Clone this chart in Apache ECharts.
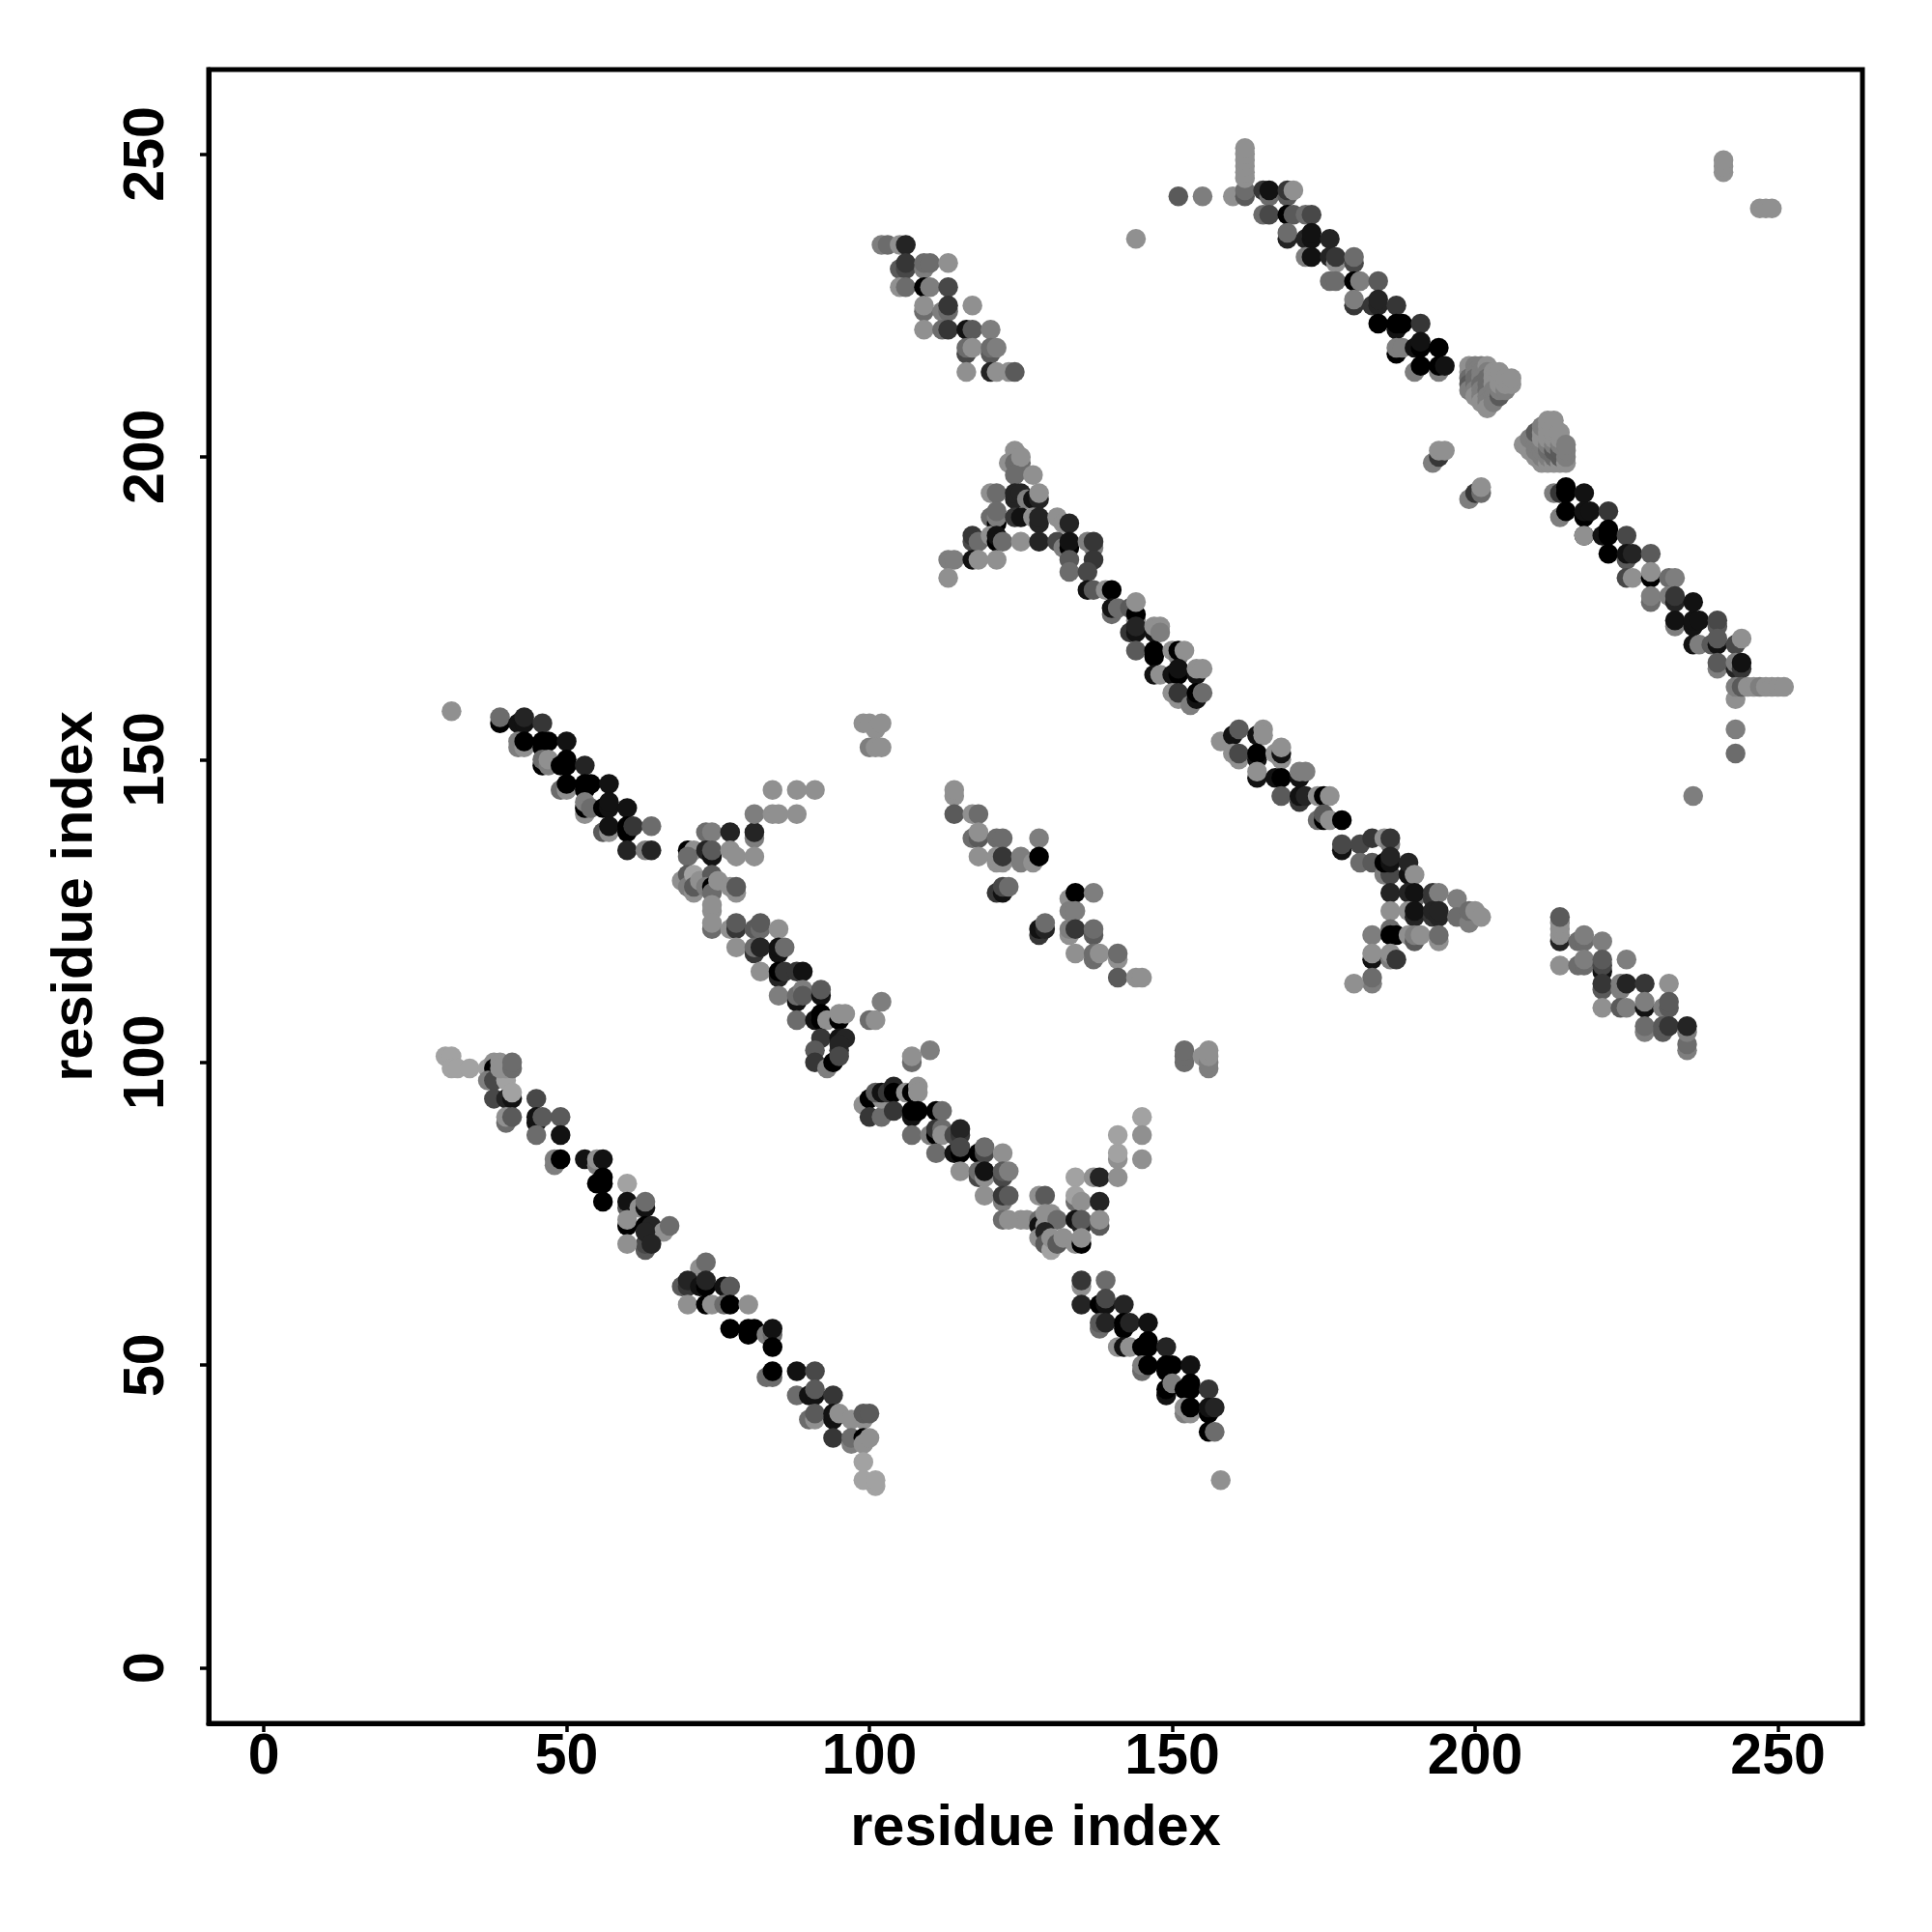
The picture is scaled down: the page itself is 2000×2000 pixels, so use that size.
<!DOCTYPE html>
<html><head><meta charset="utf-8">
<style>html,body{margin:0;padding:0;background:#fff}#c{width:2000px;height:2000px}</style>
<script src="https://cdn.jsdelivr.net/npm/echarts@6/dist/echarts.min.js"></script></head>
<body><div id="c"></div>
<script>
// each mark: [residue x, residue y, darkness level 0 (black) .. 9 (light gray)]
const tickValues=[0,50,100,150,200,250];
const axisName="residue index";
const bandLowerLeft=[[30,101,9],[31,101,9],[31,99,9],[32,99,9],[34,99,9],[37,99,9],[38,100,8],[38,99,0],[39,100,8],[37,97,7],[38,97,4],[38,94,4],[40,94,2],[41,94,1],[40,97,9],[40,99,8],[39,99,8],[41,99,6],[41,100,6],[41,95,9],[45,94,4],[40,90,6],[40,91,8],[41,91,5],[45,90,1],[45,91,1],[46,91,5],[49,91,5],[45,88,6],[49,88,1],[48,83,7],[48,84,7],[49,84,0],[53,84,1],[55,83,7],[55,84,8],[56,84,1],[56,81,0],[55,80,0],[56,80,0],[60,80,9],[56,77,0],[60,76,5],[60,77,1],[62,76,8],[63,76,1],[63,77,6],[60,73,0],[60,74,8],[63,73,0],[64,73,2],[66,72,8],[67,73,6],[63,69,5],[63,70,4],[63,72,2],[64,70,2],[60,70,8],[72,66,8],[73,67,6],[69,63,5],[70,63,3],[70,64,2],[72,63,1],[73,63,0],[73,64,2],[76,63,1],[77,63,5],[70,60,8],[73,60,0],[74,60,8],[76,60,6],[77,60,0],[80,60,8],[77,56,0],[80,55,0],[80,56,0],[81,56,0],[83,55,7],[84,55,6],[84,56,1],[84,53,0],[83,48,6],[84,48,6],[84,49,0],[88,49,1],[91,49,4],[88,45,6],[90,45,1],[91,45,1],[91,46,5],[94,45,3],[90,41,6],[91,41,8],[91,42,5],[94,41,1],[94,42,1],[95,42,8],[97,41,8],[99,41,8],[99,42,5],[100,42,5],[94,38,3],[97,37,7],[97,38,6],[99,38,0],[99,37,8],[100,38,8],[99,34,9],[99,31,9],[101,30,9],[101,31,9]];
const bandCentralLower=[[99,93,8],[100,94,0],[100,91,3],[102,91,6],[102,94,8],[101,95,5],[102,95,1],[103,95,3],[104,96,2],[104,95,0],[104,92,3],[106,95,8],[107,95,0],[108,96,8],[108,95,8],[107,91,1],[107,92,0],[108,92,0],[111,92,0],[112,92,6],[107,88,6],[110,88,7],[111,88,0],[111,89,3],[112,89,6],[112,88,8],[114,88,4],[115,88,3],[115,89,2],[111,85,6],[114,85,1],[115,85,0],[115,86,4],[118,85,0],[119,85,4],[119,86,6],[122,85,8],[115,82,8],[118,81,4],[118,82,6],[119,81,8],[119,82,1],[122,81,4],[122,82,5],[123,82,7],[119,78,8],[122,77,7],[122,78,3],[123,78,5],[122,74,6],[123,74,8],[125,74,8],[126,74,8],[128,78,8],[129,78,5],[128,74,6],[128,73,1],[129,73,8],[129,75,8],[130,75,8],[131,74,6],[128,71,8],[129,72,2],[129,70,5],[130,69,9],[130,71,8],[131,70,5],[132,71,8],[134,81,9],[134,77,6],[134,78,9],[135,77,8],[134,74,1],[135,73,2],[135,74,5],[134,70,8],[135,70,0],[135,71,8],[137,81,8],[138,81,2],[141,81,8],[138,77,2],[138,73,5],[138,74,8],[141,84,8],[141,85,9],[141,88,9],[145,91,9],[145,88,8],[145,84,8],[135,63,8],[135,64,3],[139,64,6],[135,60,2],[138,60,0],[139,60,1],[139,61,4],[142,60,2],[138,56,6],[138,57,5],[139,57,2],[142,56,0],[142,57,0],[143,57,2],[146,57,1],[141,53,8],[142,53,1],[143,53,8],[145,53,0],[146,54,0],[146,53,0],[149,53,2],[145,49,6],[145,50,7],[146,50,0],[149,49,0],[149,50,0],[150,50,0],[153,50,1],[149,45,1],[149,46,0],[150,47,7],[152,46,0],[153,47,0],[153,46,0],[156,46,3],[152,42,7],[152,43,8],[153,42,8],[153,43,0],[156,42,0],[156,43,1],[157,43,2],[156,39,0],[157,39,6],[158,31,8]];
const bandMiddleIsland=[[114,144,8],[114,145,8],[114,141,5],[117,141,8],[118,141,6],[117,137,6],[118,137,5],[118,138,8],[118,134,8],[121,137,6],[122,137,6],[128,137,7],[121,133,8],[121,134,8],[122,133,8],[122,134,3],[125,133,7],[125,134,7],[127,133,8],[128,134,0],[121,128,3],[122,128,1],[122,129,4],[123,129,6],[128,121,3],[128,122,1],[129,122,2],[129,123,6],[133,127,8],[134,128,0],[137,128,7],[133,125,7],[134,125,7],[133,121,8],[133,122,7],[134,122,3],[137,121,5],[137,122,6],[134,118,8],[137,117,6],[137,118,6],[138,118,8],[141,117,8],[141,118,6],[141,114,5],[144,114,8],[145,114,8],[110,102,7],[152,100,6],[152,101,6],[152,102,6],[155,101,8],[156,99,7],[156,100,7],[156,101,8],[156,102,8]];
const bandUpperLeft=[[31,158,8],[39,156,0],[39,157,6],[42,156,1],[43,156,1],[43,157,2],[46,156,3],[42,152,7],[42,153,7],[43,152,8],[43,153,0],[46,152,0],[46,153,0],[47,153,0],[50,153,1],[46,149,0],[46,150,6],[47,149,7],[47,150,8],[49,149,0],[50,150,0],[50,149,0],[53,149,2],[49,145,6],[50,145,8],[50,146,0],[53,145,0],[53,146,0],[54,146,0],[57,146,1],[53,141,8],[53,142,0],[53,143,7],[54,142,6],[56,142,0],[57,142,1],[57,143,1],[60,142,1],[56,138,5],[57,138,8],[57,139,1],[60,138,0],[60,139,0],[61,139,3],[64,139,6],[60,135,2],[63,135,7],[64,135,2]];
const bandCentralUpper=[[70,135,0],[71,135,8],[70,134,6],[73,138,6],[74,138,7],[77,138,2],[81,137,7],[81,138,2],[81,141,7],[84,141,8],[85,141,8],[88,141,8],[84,145,8],[88,145,8],[91,145,8],[99,156,8],[100,156,8],[101,155,8],[102,156,8],[100,152,7],[101,152,8],[102,152,8],[73,135,2],[74,134,1],[74,135,5],[77,135,8],[78,134,8],[81,134,8],[69,130,8],[70,131,5],[70,129,7],[71,128,8],[71,131,9],[71,129,5],[72,130,8],[74,131,5],[73,129,7],[74,129,0],[74,128,6],[75,130,8],[77,129,8],[78,128,8],[78,129,5],[74,125,8],[74,126,8],[74,122,6],[74,123,8],[77,122,8],[78,122,3],[78,123,5],[81,122,5],[82,122,6],[82,123,5],[85,122,8],[78,119,8],[81,118,3],[81,119,6],[82,119,2],[85,118,1],[85,119,1],[86,119,6],[82,115,8],[85,114,2],[85,115,0],[86,115,3],[88,115,3],[89,115,1],[85,111,7],[88,110,1],[88,111,6],[89,112,7],[89,111,5],[92,111,1],[92,112,5],[88,107,6],[91,107,1],[92,107,0],[92,108,0],[93,107,8],[95,107,0],[95,108,8],[96,108,8],[92,104,3],[95,104,1],[96,104,2],[91,102,5],[95,102,3],[95,103,2],[91,100,3],[93,99,7],[94,100,0],[95,101,4],[100,107,6],[101,107,8],[102,110,7],[107,100,6],[107,101,8]];
const bandTopLeft=[[102,235,7],[103,235,6],[105,235,8],[106,235,2],[105,231,5],[106,231,4],[106,232,3],[109,231,7],[109,232,6],[110,232,6],[113,232,8],[105,228,8],[106,228,6],[109,228,0],[110,228,7],[113,228,4],[109,224,6],[109,225,8],[112,224,7],[113,224,6],[113,225,3],[117,225,8],[109,221,8],[112,221,6],[113,221,3],[116,221,1],[117,221,5],[120,221,7],[116,217,4],[116,218,6],[117,218,8],[120,217,5],[120,218,6],[121,218,7],[116,214,8],[120,214,2],[121,214,8],[123,214,8],[124,214,5],[144,236,8]];
const bandPeak=[[124,201,8],[123,199,8],[124,199,6],[125,199,6],[125,200,8],[124,197,6],[127,197,8],[120,194,8],[121,194,6],[124,193,2],[124,194,2],[125,194,2],[126,193,7],[127,193,1],[128,193,2],[128,194,8],[120,190,6],[121,189,0],[121,190,7],[121,191,6],[124,190,3],[125,190,1],[127,190,8],[128,189,2],[128,190,2],[131,190,8],[132,189,8],[133,189,2],[117,186,4],[117,187,3],[118,186,6],[120,187,8],[121,186,0],[121,187,1],[122,186,6],[125,186,8],[128,186,2],[131,186,4],[132,185,7],[133,185,0],[133,186,1],[136,186,7],[137,185,7],[137,186,3],[133,183,5],[137,183,3],[133,181,6],[136,181,4],[113,183,7],[114,183,7],[117,183,1],[118,183,8],[121,183,8],[113,180,8]];
const bandMiddleMain=[[136,178,1],[137,178,5],[139,178,8],[140,178,0],[140,174,6],[140,175,1],[141,175,6],[143,175,5],[144,173,8],[144,174,0],[144,176,8],[143,171,3],[144,171,1],[144,172,2],[147,171,1],[147,172,8],[148,172,8],[148,171,7],[144,168,5],[147,167,0],[147,168,0],[150,168,8],[151,167,7],[151,168,0],[152,168,8],[147,164,1],[148,164,8],[150,164,1],[151,164,0],[151,165,1],[154,164,1],[154,165,8],[155,165,8],[150,161,8],[151,160,8],[151,161,3],[153,159,7],[154,160,1],[154,161,0],[155,161,6],[158,153,8],[160,154,1],[161,155,5],[164,154,1],[165,155,8],[165,154,8],[160,151,8],[161,150,8],[161,151,4],[164,150,1],[164,151,0],[167,151,8],[168,150,8],[168,151,1],[168,152,8],[164,147,1],[164,148,8],[167,147,1],[168,147,0],[171,147,1],[171,148,7],[172,148,7],[168,144,5],[171,143,3],[171,144,1],[172,144,2],[174,144,8],[175,144,0],[176,144,8],[174,140,6],[175,140,0],[175,141,5],[176,140,8],[178,140,0],[178,135,1],[178,136,4],[181,136,4],[183,137,3],[185,137,8],[186,136,7],[186,137,3],[181,133,6],[183,133,5],[185,131,7],[186,131,4],[185,133,0],[186,133,1],[186,134,2],[189,131,1],[189,133,2],[190,131,8],[186,128,2],[190,127,6],[189,128,2],[190,128,1],[193,127,3],[193,128,3],[194,128,7],[197,127,7],[186,125,8],[189,125,8],[190,124,2],[190,125,1],[193,124,3],[193,125,2],[194,124,2],[194,125,2],[197,124,6],[199,123,7],[199,125,6],[200,125,8],[201,124,8],[183,121,7],[186,122,6],[186,121,0],[187,121,0],[190,121,0],[189,121,8],[190,120,5],[190,121,7],[191,121,8],[194,120,8],[194,121,6],[183,117,1],[183,118,8],[186,117,7],[186,118,8],[187,117,3],[183,113,7],[183,114,6],[180,113,8]];
const bandTopRight=[[151,243,5],[155,243,7],[160,243,8],[162,243,5],[162,244,6],[162,246,8],[162,247,8],[162,248,8],[162,249,8],[162,250,8],[162,251,8],[165,244,3],[166,243,6],[166,244,1],[169,243,5],[169,244,3],[170,244,8],[165,240,6],[166,240,4],[169,240,0],[170,240,5],[172,240,6],[173,240,4],[169,236,2],[169,237,6],[172,236,2],[173,236,1],[173,237,1],[176,236,2],[172,233,7],[173,233,1],[176,233,2],[177,232,8],[177,233,3],[180,232,4],[180,233,6],[176,229,6],[177,229,6],[180,229,0],[181,229,7],[184,229,5],[180,225,3],[180,226,7],[183,225,3],[184,225,2],[184,226,2],[187,225,3],[184,222,0],[187,221,1],[187,222,0],[188,222,0],[191,222,3],[187,217,0],[187,218,7],[188,218,7],[190,218,1],[191,218,0],[191,219,1],[194,218,0],[190,214,7],[191,215,0],[194,214,7],[194,215,0],[195,215,1],[193,199,7],[194,200,3],[194,201,8],[195,201,8],[199,193,7],[200,194,3],[201,194,6],[201,195,8]];
const clusterOne=[[199,215,8],[199,214,8],[199,213,6],[199,212,5],[199,211,7],[200,215,7],[200,214,7],[200,213,6],[200,212,6],[200,211,7],[200,210,8],[201,215,7],[201,214,7],[201,213,7],[201,212,6],[201,211,7],[201,210,7],[201,209,8],[202,215,8],[202,214,7],[202,213,6],[202,212,6],[202,211,6],[202,210,7],[202,209,7],[202,208,8],[203,214,8],[203,213,8],[203,212,8],[203,211,7],[203,210,7],[203,209,7],[204,210,5],[204,211,7],[204,212,8],[204,213,8],[204,214,8],[205,211,7],[205,212,8],[205,213,8],[206,212,8],[206,213,8]];
const clusterTwo=[[208,202,8],[209,201,8],[209,202,8],[209,203,7],[210,200,8],[210,201,7],[210,202,7],[210,203,7],[210,204,5],[211,199,8],[211,200,7],[211,201,7],[211,202,7],[211,203,8],[211,204,8],[211,205,7],[212,199,8],[212,200,7],[212,201,6],[212,202,7],[212,203,8],[212,204,8],[212,205,8],[212,206,8],[213,199,8],[213,200,6],[213,201,5],[213,202,7],[213,203,8],[213,204,8],[213,205,8],[213,206,8],[214,199,8],[214,200,5],[214,201,5],[214,202,7],[214,203,8],[214,204,8],[215,199,8],[215,200,7],[215,201,7],[215,202,7]];
const bandRightMain=[[213,194,7],[214,194,3],[215,194,0],[215,195,0],[218,194,1],[214,190,7],[215,191,0],[218,190,0],[218,191,1],[219,191,1],[222,191,3],[218,187,0],[218,187,8],[221,187,1],[222,187,0],[222,188,0],[225,187,4],[222,184,0],[225,183,5],[225,184,1],[226,184,2],[229,184,5],[225,180,4],[226,180,8],[229,180,0],[229,181,8],[232,180,6],[233,180,7],[229,176,6],[229,177,7],[232,177,7],[233,176,2],[233,177,3],[236,176,1],[233,172,7],[233,173,1],[236,172,1],[236,173,1],[237,173,1],[240,172,5],[240,173,4],[236,169,1],[237,169,7],[239,169,5],[240,169,1],[240,170,5],[243,169,4],[244,170,8],[240,165,7],[240,166,5],[243,165,2],[243,166,7],[244,165,3],[244,166,1],[243,160,8],[243,162,7],[244,162,5],[245,162,8],[246,162,8],[247,162,7],[248,162,8],[249,162,8],[250,162,8],[251,162,8],[243,155,7],[243,151,6],[241,247,8],[241,248,8],[241,249,8],[247,241,8],[248,241,8],[249,241,8],[236,144,7]];
const bandRightIsland=[[214,120,2],[214,121,8],[214,122,8],[214,123,8],[214,124,5],[214,116,8],[217,120,6],[218,120,6],[218,121,7],[221,120,7],[217,116,6],[218,116,6],[218,117,7],[221,115,1],[221,116,4],[221,117,5],[225,117,7],[221,112,5],[221,113,3],[224,112,7],[224,113,7],[225,113,2],[228,113,3],[232,113,8],[221,109,8],[224,109,5],[225,109,7],[228,109,1],[228,110,7],[231,109,7],[232,109,5],[232,110,5],[228,105,7],[228,106,6],[231,105,5],[231,106,5],[232,106,3],[235,102,7],[235,103,6],[235,105,7],[235,106,2]];

const FONT='"Liberation Sans", Arial, sans-serif';
const allMarks=[].concat(bandLowerLeft,bandCentralLower,bandMiddleIsland,bandUpperLeft,bandCentralUpper,bandTopLeft,bandPeak,bandMiddleMain,bandTopRight,clusterOne,clusterTwo,bandRightMain,bandRightIsland);
function axis(isY){return {
  type:'value',min:isY?-9.15:-9.1,max:isY?263.95:263.95,
  name:axisName,nameLocation:'middle',nameGap:isY?107:80,
  nameTextStyle:{color:'#000',fontFamily:FONT,fontWeight:'bold',fontSize:59.5},
  splitLine:{show:false},
  axisLine:{show:true,onZero:false,lineStyle:{color:'#000',width:5}},
  axisTick:{show:true,length:9,inside:false,customValues:tickValues,lineStyle:{color:'#000',width:3.5}},
  axisLabel:{show:true,margin:isY?34:6,rotate:isY?90:0,customValues:tickValues,color:'#000',fontFamily:FONT,fontWeight:'bold',fontSize:59,showMinLabel:true,showMaxLabel:true}
};}
const chart=echarts.init(document.getElementById('c'),null,{renderer:'canvas',width:2000,height:2000});
chart.setOption({
  animation:false,backgroundColor:'#fff',
  grid:{left:216,right:72,top:72,bottom:216,show:true,borderColor:'#000',borderWidth:5,backgroundColor:'transparent',containLabel:false},
  xAxis:axis(false),yAxis:axis(true),
  series:[{type:'scatter',symbol:'circle',symbolSize:20.5,data:allMarks,large:false,
    itemStyle:{opacity:1,color:function(p){const g=p.value[2]*18;return 'rgb('+g+','+g+','+g+')';}},
    encode:{x:0,y:1}}]
});
</script></body></html>
